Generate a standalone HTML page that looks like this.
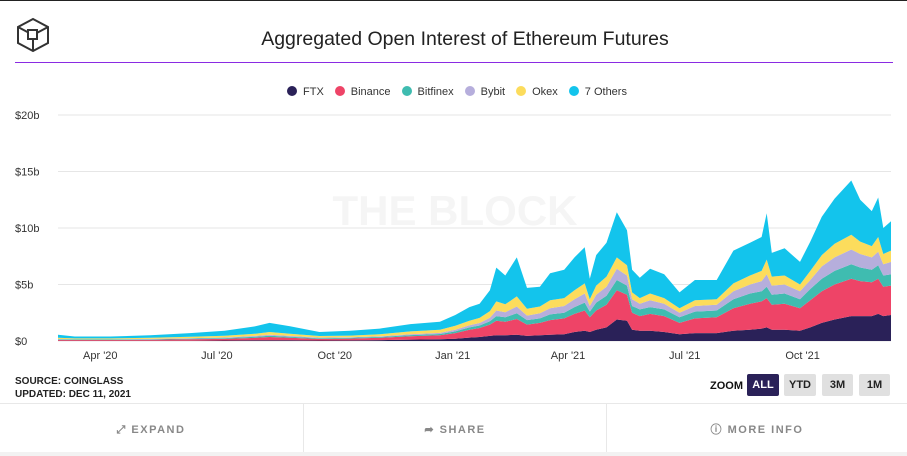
<!DOCTYPE html>
<html><head><meta charset="utf-8"><style>
body{margin:0;width:907px;height:456px;background:#fff;font-family:"Liberation Sans",sans-serif;overflow:hidden;position:relative}
.abs{position:absolute}
.btn{position:absolute;top:374px;height:22px;font-size:11px;font-weight:bold;text-align:center;line-height:22px;border-radius:2px;background:#e0e0e0;color:#222}
.foot{position:absolute;top:406px;height:48px;width:302px;text-align:center;line-height:48px;font-size:11px;letter-spacing:1.5px;color:#888;font-weight:bold}
</style></head><body>
<div class="abs" style="left:0;top:0;width:907px;height:1px;background:#222"></div>
<svg class="abs" style="left:15px;top:17px" width="36" height="36" viewBox="0 0 36 36"><g fill="none" stroke="#333" stroke-width="2"><polygon points="18,2 33,10 33,26 18,34 3,26 3,10"/><polyline points="3,10 18,18 33,10"/><line x1="18" y1="18" x2="18" y2="34"/><rect x="13" y="13" width="9" height="9" fill="#fff"/></g></svg>
<div class="abs" style="left:0;width:930px;top:28px;text-align:center;font-size:19.5px;color:#222">Aggregated Open Interest of Ethereum Futures</div>
<div class="abs" style="left:15px;top:62px;width:878px;height:1px;background:#8a2be2"></div>
<div class="abs" style="left:287px;top:86px;font-size:11px;color:#333;white-space:nowrap" id="legend"></div>
<svg class="abs" id="chart" style="left:0;top:100px" width="907" height="265"></svg>
<div class="abs" style="left:15px;top:375px;font-size:10px;font-weight:bold;color:#222;line-height:13px">SOURCE: COINGLASS<br>UPDATED: DEC 11, 2021</div>
<div class="abs" style="left:710px;top:380px;font-size:11px;font-weight:bold;color:#111">ZOOM</div>
<div class="btn" style="left:747px;width:32px;background:#2a2158;color:#fff">ALL</div>
<div class="btn" style="left:784px;width:32px">YTD</div>
<div class="btn" style="left:822px;width:31px">3M</div>
<div class="btn" style="left:859px;width:31px">1M</div>
<div class="abs" style="left:0;top:403px;width:907px;height:1px;background:#e8e8e8"></div>
<div class="foot" style="left:0">⤢ EXPAND</div>
<div class="abs" style="left:303px;top:404px;width:1px;height:48px;background:#e8e8e8"></div>
<div class="foot" style="left:304px">➦ SHARE</div>
<div class="abs" style="left:606px;top:404px;width:1px;height:48px;background:#e8e8e8"></div>
<div class="foot" style="left:607px;width:300px">ⓘ MORE INFO</div>
<div class="abs" style="left:0;top:452px;width:907px;height:4px;background:#f2f2f2"></div>
<script>
const seriesNames=["FTX","Binance","Bitfinex","Bybit","Okex","7 Others"];
const seriesColors=["#2a2158","#ee4467","#3fbcb0","#b6aedc","#fcdc5c","#13c4ec"];
const days=[0,13,41,72,103,130,154,165,181,204,228,251,275,298,310,321,329,337,342,349,358,366,376,384,395,403,411,415,420,428,436,444,448,454,462,473,485,497,514,527,540,549,553,557,567,579,587,596,606,619,626,635,640,644,650];
const ftx=[.02,.02,.02,.02,.03,.04,.06,.07,.06,.04,.05,.08,.12,.15,.2,.3,.35,.45,.5,.5,.55,.45,.5,.55,.6,.8,.9,.8,1.0,1.2,1.9,1.8,1.0,.9,.9,.8,.6,.7,.7,.9,1.0,1.1,1.2,1.0,1.0,.9,1.2,1.6,1.9,2.2,2.2,2.2,2.4,2.2,2.3];
const binance=[.08,.07,.07,.09,.12,.15,.22,.28,.22,.14,.16,.2,.3,.35,.5,.7,.8,1.0,1.3,1.2,1.4,1.0,1.1,1.3,1.4,1.6,1.8,1.3,1.7,2.0,2.6,2.3,1.5,1.3,1.5,1.4,1.0,1.3,1.4,2.0,2.3,2.4,2.6,2.2,2.3,2.0,2.4,2.8,3.1,3.3,3.1,3.0,3.1,2.6,2.6];
const bitfinex=[.05,.04,.04,.05,.06,.07,.1,.12,.1,.07,.07,.08,.1,.12,.15,.2,.22,.3,.4,.4,.5,.4,.4,.5,.5,.6,.7,.5,.7,.8,.9,.8,.6,.6,.6,.6,.5,.6,.6,.8,.9,.9,1.0,.9,.9,.8,1.0,1.1,1.2,1.3,1.2,1.1,1.2,1.0,1.0];
const bybit=[.03,.02,.02,.03,.04,.05,.07,.08,.07,.05,.05,.06,.08,.1,.15,.2,.22,.3,.5,.45,.6,.4,.45,.55,.6,.7,.8,.5,.7,.8,1.0,.9,.6,.5,.6,.5,.4,.5,.5,.7,.8,.9,1.1,.8,.8,.7,.8,1.1,1.2,1.3,1.2,1.1,1.2,1.0,1.1];
const okex=[.1,.08,.08,.09,.12,.15,.2,.25,.2,.14,.15,.18,.25,.28,.35,.4,.45,.6,.8,.7,.9,.6,.6,.7,.7,.8,.9,.6,.8,.9,1.0,.9,.6,.5,.6,.5,.4,.5,.5,.7,.8,.9,1.3,.8,.8,.6,.8,1.0,1.2,1.3,1.1,1.0,1.3,.9,1.0];
const others=[.27,.17,.17,.22,.33,.44,.65,.8,.65,.36,.42,.5,.65,.7,.95,1.2,1.26,1.85,3.0,2.55,3.45,1.85,1.75,2.4,2.5,2.9,3.2,1.8,2.7,3.0,4.0,3.1,2.0,1.8,2.2,2.1,1.4,1.8,1.7,2.9,2.9,3.0,4.1,2.1,2.4,2.0,2.6,3.4,4.0,4.8,3.7,3.1,3.5,2.3,2.6];
const yTicks=[0,5,10,15,20];
const yTickLabels=["$0","$5b","$10b","$15b","$20b"];
const xTickDays=[33,124,216,308,398,489,581];
const xTickLabels=["Apr '20","Jul '20","Oct '20","Jan '21","Apr '21","Jul '21","Oct '21"];
const series=[ftx,binance,bitfinex,bybit,okex,others];
const NS="http://www.w3.org/2000/svg";
const svg=document.getElementById('chart');
const X0=58,X1=891,TOP=15,BOT=241;
const xs=d=>X0+(d-days[0])/(days[days.length-1]-days[0])*(X1-X0);
const ys=v=>BOT-v/20*(BOT-TOP);
function mk(t,a){const e=document.createElementNS(NS,t);for(const k in a)e.setAttribute(k,a[k]);svg.appendChild(e);return e;}
yTicks.forEach((v,i)=>{
 const l=mk('line',{x1:X0,x2:X1,y1:ys(v),y2:ys(v),stroke:'#e6e6e6','stroke-width':1});
 
 
 const t=mk('text',{x:15,y:ys(v)+4,'font-size':11,fill:'#333','font-family':'Liberation Sans, sans-serif'});
 t.textContent=yTickLabels[i];
 
 
});
const wm=mk('text',{x:455,y:125,'font-size':42,'font-weight':'bold',fill:'#f5f5f5','text-anchor':'middle','font-family':'Liberation Sans, sans-serif'});
wm.textContent="THE BLOCK";


let base=days.map(()=>0);
series.forEach((s,si)=>{
 const top=s.map((v,i)=>base[i]+v);
 let d='M'+days.map((dd,i)=>xs(dd).toFixed(1)+','+ys(top[i]).toFixed(1)).join('L');
 for(let i=days.length-1;i>=0;i--)d+='L'+xs(days[i]).toFixed(1)+','+ys(base[i]).toFixed(1);
 const p=mk('path',{d:d+'Z',fill:seriesColors[si]});
 
 
 base=top;
});
xTickDays.forEach((d,i)=>{
 const t=mk('text',{x:xs(d),y:BOT+18,'font-size':11,fill:'#333','text-anchor':'middle','font-family':'Liberation Sans, sans-serif'});
 t.textContent=xTickLabels[i];
 
 
});
const lg=document.getElementById('legend');
seriesNames.forEach((n,i)=>{
 const s=document.createElement('span');
 
 
 s.style.marginRight='11px';
 s.innerHTML='<span style="display:inline-block;width:10px;height:10px;border-radius:50%;background:'+seriesColors[i]+';vertical-align:-1px;margin-right:6px"></span>'+n;
 lg.appendChild(s);
});
</script>
</body></html>
